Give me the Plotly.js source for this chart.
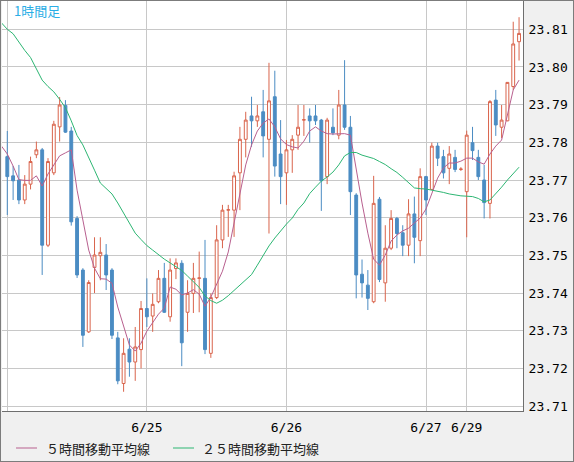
<!DOCTYPE html>
<html><head><meta charset="utf-8">
<script src="https://cdn.plot.ly/plotly-3.0.1.min.js"></script>
<style>
html,body{margin:0;padding:0;background:#f0f0f0;}
#chart{width:572px;height:460px;border:1px solid #7c7c7c;}
</style></head><body><div id="chart"></div>
<script>
// hourly candles, index 0 = 6/24 00:00
const tickIdx = [0, 24, 48, 72, 79];
const tickText = ['', '6/25', '6/26', '6/27', '6/29'];
const yTicks = [23.71, 23.72, 23.73, 23.74, 23.75, 23.76, 23.77, 23.78, 23.79, 23.80, 23.81];

const open = [23.7762,23.7711,23.7700,23.7647,23.7689,23.7767,23.7780,23.7527,23.7719,23.7841,
23.7898,23.7830,23.7598,23.7461,23.7297,23.7468,23.7499,23.7501,23.7461,23.7281,
23.7160,23.7251,23.7217,23.7250,23.7359,23.7339,23.7377,23.7439,23.7337,23.7465,
23.7479,23.7349,23.7399,23.7439,23.7439,23.7240,23.7388,23.7541,23.7620,23.7620,
23.7719,23.7808,23.7870,23.7857,23.7881,23.7808,23.7921,23.7769,23.7719,23.7780,
23.7819,23.7859,23.7870,23.7870,23.7859,23.7709,23.7840,23.7819,23.7899,23.7840,
23.7660,23.7450,23.7421,23.7377,23.7649,23.7427,23.7519,23.7598,23.7560,23.7527,
23.7610,23.7539,23.7709,23.7675,23.7790,23.7762,23.7731,23.7760,23.7728,23.7669,
23.7799,23.7760,23.7700,23.7638,23.7912,23.7840,23.7857,23.7948,23.8067];
const high = [23.7830,23.7737,23.7740,23.7713,23.7762,23.7802,23.7785,23.7758,23.7857,23.7920,
23.7912,23.7841,23.7604,23.7466,23.7434,23.7548,23.7548,23.7530,23.7466,23.7297,
23.7280,23.7280,23.7310,23.7379,23.7439,23.7399,23.7461,23.7480,23.7492,23.7492,
23.7487,23.7434,23.7480,23.7510,23.7541,23.7399,23.7580,23.7634,23.7634,23.7722,
23.7841,23.7881,23.7921,23.7899,23.7939,23.8011,23.7990,23.7859,23.7806,23.7819,
23.7899,23.7899,23.7890,23.7899,23.7862,23.7865,23.7890,23.7939,23.8018,23.7870,
23.7665,23.7489,23.7461,23.7711,23.7655,23.7580,23.7620,23.7602,23.7580,23.7649,
23.7656,23.7731,23.7711,23.7799,23.7799,23.7780,23.7790,23.7780,23.7734,23.7831,
23.7841,23.7780,23.7740,23.7912,23.7939,23.7899,23.7960,23.8120,23.8132];
const low = [23.7607,23.7647,23.7636,23.7636,23.7675,23.7758,23.7448,23.7522,23.7713,23.7802,
23.7825,23.7579,23.7440,23.7257,23.7294,23.7400,23.7434,23.7408,23.7278,23.7158,
23.7138,23.7178,23.7167,23.7200,23.7310,23.7297,23.7373,23.7347,23.7324,23.7437,
23.7206,23.7297,23.7347,23.7349,23.7238,23.7228,23.7384,23.7519,23.7549,23.7549,
23.7620,23.7760,23.7788,23.7841,23.7760,23.7558,23.7709,23.7636,23.7634,23.7719,
23.7780,23.7817,23.7799,23.7846,23.7618,23.7689,23.7819,23.7808,23.7833,23.7607,
23.7386,23.7388,23.7355,23.7373,23.7429,23.7377,23.7514,23.7519,23.7498,23.7498,
23.7479,23.7498,23.7607,23.7673,23.7737,23.7704,23.7689,23.7721,23.7724,23.7548,
23.7753,23.7700,23.7598,23.7598,23.7817,23.7811,23.7856,23.7939,23.8017];
const close = [23.7709,23.7698,23.7647,23.7689,23.7749,23.7780,23.7527,23.7749,23.7848,23.7899,
23.7827,23.7589,23.7448,23.7288,23.7428,23.7501,23.7508,23.7448,23.7288,23.7167,
23.7240,23.7217,23.7257,23.7359,23.7337,23.7370,23.7439,23.7349,23.7461,23.7480,
23.7268,23.7399,23.7439,23.7440,23.7250,23.7388,23.7541,23.7620,23.7621,23.7711,
23.7808,23.7859,23.7857,23.7870,23.7817,23.7910,23.7737,23.7709,23.7780,23.7808,
23.7840,23.7860,23.7857,23.7857,23.7698,23.7859,23.7825,23.7899,23.7840,23.7669,
23.7448,23.7427,23.7386,23.7638,23.7436,23.7519,23.7598,23.7558,23.7527,23.7610,
23.7548,23.7709,23.7647,23.7790,23.7758,23.7719,23.7769,23.7728,23.7729,23.7819,
23.7778,23.7709,23.7640,23.7908,23.7846,23.7859,23.7959,23.8061,23.8089];

// moving averages, first value is the hour before index 0
const ma5 = [23.7790,23.7769,23.7737,23.7701,23.7699,23.7699,23.7711,23.7684,23.7716,23.7740,23.7764,
23.7772,23.7780,23.7673,23.7596,23.7514,23.7466,23.7438,23.7437,23.7426,23.7363,
23.7310,23.7262,23.7246,23.7267,23.7299,23.7323,23.7344,23.7360,23.7416,23.7410,
23.7395,23.7400,23.7409,23.7397,23.7365,23.7389,23.7424,23.7458,23.7509,23.7588,
23.7665,23.7740,23.7793,23.7830,23.7851,23.7862,23.7841,23.7809,23.7794,23.7788,
23.7785,23.7803,23.7830,23.7841,23.7830,23.7823,23.7822,23.7823,23.7823,23.7819,
23.7726,23.7639,23.7559,23.7490,23.7474,23.7501,23.7538,23.7554,23.7565,23.7572,
23.7586,23.7599,23.7623,23.7663,23.7705,23.7732,23.7745,23.7745,23.7750,23.7758,
23.7758,23.7748,23.7742,23.7769,23.7790,23.7806,23.7872,23.7939,23.7965];
const ma25 = [23.8117,23.8100,23.8088,23.8065,23.8044,23.8025,23.7995,23.7965,23.7948,23.7934,23.7914,
23.7892,23.7857,23.7818,23.7793,23.7761,23.7726,23.7692,23.7677,23.7663,23.7639,
23.7612,23.7583,23.7559,23.7542,23.7526,23.7514,23.7501,23.7490,23.7480,23.7470,
23.7460,23.7445,23.7429,23.7415,23.7392,23.7380,23.7373,23.7381,23.7393,23.7407,
23.7420,23.7434,23.7449,23.7474,23.7501,23.7525,23.7546,23.7565,23.7583,23.7599,
23.7622,23.7639,23.7664,23.7681,23.7697,23.7708,23.7721,23.7740,23.7764,23.7773,
23.7773,23.7766,23.7761,23.7757,23.7749,23.7741,23.7730,23.7720,23.7707,23.7693,
23.7679,23.7677,23.7676,23.7673,23.7671,23.7667,23.7663,23.7660,23.7658,23.7657,
23.7656,23.7651,23.7642,23.7647,23.7663,23.7681,23.7700,23.7718,23.7734];

const title = '1時間足';
const legend5 = '５時間移動平均線';
const legend25 = '２５時間移動平均線';

const xs = open.map((_, i) => i);
const maX = ma5.map((_, i) => i - 1);

const RED = '#d9644c', BLUE = '#4b8cc3', PINK = '#b8608f', GREEN = '#2db673';

const traces = [
  {type: 'candlestick', x: xs, open: open, high: high, low: low, close: close,
   increasing: {line: {color: RED, width: 1}, fillcolor: '#ffffff'},
   decreasing: {line: {color: BLUE, width: 1}, fillcolor: BLUE},
   whiskerwidth: 0, hoverinfo: 'skip', showlegend: false},
  {type: 'scatter', mode: 'lines', x: maX, y: ma5, line: {color: PINK, width: 1},
   hoverinfo: 'skip', showlegend: false},
  {type: 'scatter', mode: 'lines', x: maX, y: ma25, line: {color: GREEN, width: 1},
   hoverinfo: 'skip', showlegend: false}
];

const W = 521, H = 410; // plot area size in px
const px = v => (v - 2) / W;      // page x -> paper
const py = v => (411 - v) / H;    // page y -> paper

const tickFont = {family: 'DejaVu Sans Mono, monospace', size: 13, color: '#000000'};
const jpFont = {family: 'Noto Sans CJK JP, sans-serif', size: 13, color: '#222222'};

const layout = {
  width: 572, height: 460,
  margin: {l: 1, r: 50, t: 0, b: 50, pad: 0},
  paper_bgcolor: '#f0f0f0', plot_bgcolor: '#ffffff',
  showlegend: false, dragmode: false,
  xaxis: {range: [-0.91, 88.68], tickmode: 'array', tickvals: tickIdx, ticktext: tickText,
    showgrid: true, gridcolor: '#c8c8c8', gridwidth: 1, zeroline: false,
    showline: true, linecolor: '#6e6e6e', linewidth: 1, ticks: '', tickfont: tickFont,
    ticklabelstandoff: 4, rangeslider: {visible: false}, automargin: false, fixedrange: true},
  yaxis: {range: [23.7087, 23.8175], side: 'right', tickmode: 'array', tickvals: yTicks,
    ticktext: yTicks.map(v => v.toFixed(2)),
    showgrid: true, gridcolor: '#c8c8c8', gridwidth: 1, zeroline: false,
    showline: true, linecolor: '#6e6e6e', linewidth: 1, ticks: '', tickfont: tickFont,
    ticklabelstandoff: 2, automargin: false, fixedrange: true},
  annotations: [
    {xref: 'paper', yref: 'paper', x: px(11.5), y: py(10), xanchor: 'left', yanchor: 'middle',
     text: title, showarrow: false, font: {family: 'Noto Sans CJK JP, sans-serif', size: 13, color: '#2aaee6'}},
    {xref: 'paper', yref: 'paper', x: px(43.5), y: py(448), xanchor: 'left', yanchor: 'middle',
     text: legend5, showarrow: false, font: jpFont},
    {xref: 'paper', yref: 'paper', x: px(199.5), y: py(448), xanchor: 'left', yanchor: 'middle',
     text: legend25, showarrow: false, font: jpFont}
  ],
  shapes: [
    {type: 'line', xref: 'paper', yref: 'paper', x0: px(16), x1: px(37), y0: py(448), y1: py(448),
     line: {color: PINK, width: 1}},
    {type: 'line', xref: 'paper', yref: 'paper', x0: px(173), x1: px(194), y0: py(448), y1: py(448),
     line: {color: GREEN, width: 1}}
  ]
};

Plotly.newPlot('chart', traces, layout, {staticPlot: true, displayModeBar: false});
</script></body></html>
